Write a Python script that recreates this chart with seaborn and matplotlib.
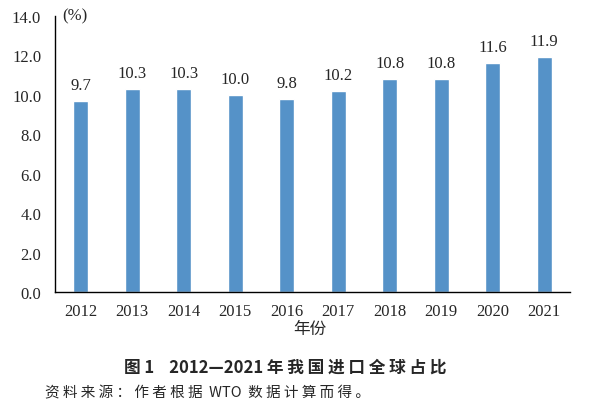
import matplotlib
matplotlib.use("Agg")
import matplotlib.pyplot as plt
import seaborn as sns
import pandas as pd
import numpy as np

years = ["2012", "2013", "2014", "2015", "2016", "2017", "2018", "2019", "2020", "2021"]
share = [9.7, 10.3, 10.3, 10.0, 9.8, 10.2, 10.8, 10.8, 11.6, 11.9]
y_ticks = [0.0, 2.0, 4.0, 6.0, 8.0, 10.0, 12.0, 14.0]

sns.set_style("white")
plt.rcParams['font.family'] = ['Liberation Serif', 'Noto Sans CJK SC', 'DejaVu Sans']
plt.rcParams['font.size'] = 12

df = pd.DataFrame({"year": years, "share": share})

fig = plt.figure(figsize=(6, 4.14), dpi=100)
ax = fig.add_axes([0.0917, 0.2923, 0.8583, 0.667])

sns.barplot(data=df, x="year", y="share", color="#5592c8", saturation=1,
            width=0.3, ax=ax)

for i, v in enumerate(share):
    ax.text(i, v + 0.4, f"{v:.1f}", ha="center", va="bottom", fontsize=12,
            family="Liberation Serif")

ax.set_xlim(-0.5, len(years) - 0.5)
ax.set_ylim(0, 14)
ax.set_yticks(y_ticks)
ax.set_yticklabels([f"{t:.1f}" for t in y_ticks])
ax.set_xticks(np.arange(-0.5, len(years), 1.0), minor=True)
ax.tick_params(axis="x", which="major", length=0, pad=8, labelsize=12)
ax.tick_params(axis="x", which="minor", direction="in", length=4, width=1, color="black")
ax.tick_params(axis="y", direction="in", length=4, width=1, color="black", pad=10,
               labelsize=12)
for s in ["top", "right"]:
    ax.spines[s].set_visible(False)
for s in ["left", "bottom"]:
    ax.spines[s].set_color("black")
    ax.spines[s].set_linewidth(1)

ax.set_xlabel("")
ax.set_ylabel("")
ax.text(-0.36, 14.0, "(%)", ha="left", va="center", fontsize=12,
        family="Liberation Serif")

fig.text(0.517, 0.203, "年份", ha="center", va="center", fontsize=12,
         family=["Noto Sans CJK SC"])
fig.text(0.475, 0.111, "图 1    2012—2021 年 我 国 进 口 全 球 占 比", ha="center", va="center",
         fontsize=12, fontweight="bold", family=["Noto Sans CJK SC"])
fig.text(0.075, 0.051, "资 料 来 源 ： 作 者 根 据  WTO  数 据 计 算 而 得 。", ha="left", va="center",
         fontsize=10.5, family=["Noto Sans CJK SC", "Liberation Serif"])

fig.savefig("out.png", dpi=100, facecolor="white")
